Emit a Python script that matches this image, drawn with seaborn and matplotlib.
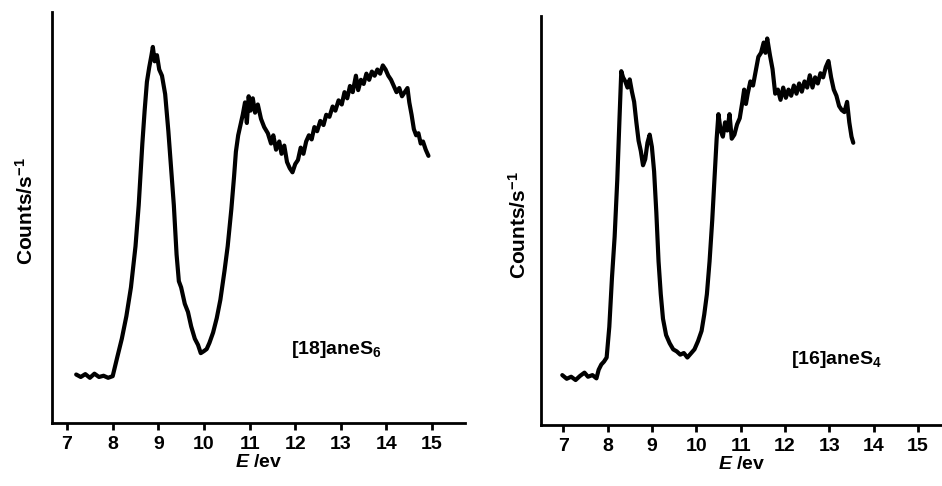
import matplotlib
matplotlib.use("Agg")
import matplotlib.pyplot as plt
import seaborn as sns
import pandas as pd

# ---- data (arbitrary count units, 0 = axis bottom, 100 = axis top)
e18 = [7.20, 7.30, 7.40, 7.50, 7.60, 7.70, 7.80, 7.90, 8.00, 8.10, 8.20, 8.30, 8.40, 8.50, 8.57,
       8.65, 8.70, 8.75, 8.80, 8.85, 8.88, 8.92, 8.97, 9.02, 9.08, 9.15, 9.22, 9.28, 9.34, 9.40,
       9.45, 9.50, 9.58, 9.65, 9.72, 9.80, 9.87, 9.93, 10.00, 10.06, 10.12, 10.20, 10.28, 10.36,
       10.45, 10.52, 10.60, 10.66, 10.70, 10.75, 10.80, 10.85, 10.90, 10.94, 10.98, 11.02, 11.07,
       11.12, 11.18, 11.25, 11.32, 11.40, 11.47, 11.52, 11.58, 11.65, 11.70, 11.76, 11.82, 11.88,
       11.94, 12.00, 12.06, 12.12, 12.18, 12.24, 12.30, 12.36, 12.42, 12.48, 12.55, 12.62, 12.68,
       12.75, 12.82, 12.88, 12.95, 13.02, 13.08, 13.14, 13.20, 13.26, 13.33, 13.38, 13.44, 13.50,
       13.56, 13.62, 13.68, 13.74, 13.80, 13.86, 13.92, 13.98, 14.04, 14.10, 14.16, 14.22, 14.28,
       14.34, 14.40, 14.46, 14.50, 14.55, 14.60, 14.65, 14.70, 14.75, 14.80, 14.86, 14.92]
c18 = [11.8, 11.2, 11.9, 11.0, 12.0, 11.2, 11.5, 11.0, 11.4, 16.0, 20.5, 26.0, 33.0, 43.0, 53.0,
       68.0, 76.0, 83.0, 86.5, 89.5, 91.5, 88.0, 89.5, 86.0, 84.5, 80.0, 71.0, 62.0, 53.0, 41.0,
       34.5, 33.0, 29.0, 27.0, 23.5, 20.5, 19.0, 17.0, 17.5, 18.0, 19.5, 22.0, 25.5, 30.0,
       37.0, 43.0, 52.0, 60.0, 66.0, 70.0, 72.5, 75.0, 78.0, 73.0, 79.5, 76.0, 79.0,
       75.5, 77.5, 74.0, 72.0, 70.5, 68.0, 70.0, 66.5, 68.5, 65.5, 67.5, 63.5, 62.0,
       61.0, 63.0, 64.0, 67.0, 65.5, 68.5, 70.0, 69.0, 72.0, 71.0, 73.5, 72.5, 75.0,
       74.5, 77.0, 76.0, 78.5, 77.5, 80.5, 79.0, 82.0, 80.5, 84.5, 81.0, 83.5, 82.5,
       85.0, 83.5, 85.5, 84.5, 86.0, 85.0, 87.0, 86.0, 84.5, 83.5, 82.0, 80.5, 81.5,
       79.5, 80.5, 81.5, 78.0, 75.0, 71.5, 70.0, 70.5, 68.0, 68.5, 66.5, 65.0]

e16 = [6.98, 7.08, 7.18, 7.28, 7.38, 7.48, 7.56, 7.66, 7.75, 7.80, 7.86, 7.92, 7.98, 8.04, 8.10,
       8.16, 8.22, 8.27, 8.31, 8.35, 8.40, 8.45, 8.50, 8.55, 8.60, 8.65, 8.70, 8.75, 8.80, 8.85,
       8.90, 8.95, 9.00, 9.05, 9.10, 9.15, 9.20, 9.25, 9.32, 9.40, 9.48, 9.56, 9.64, 9.72, 9.80,
       9.88, 9.96, 10.04, 10.12, 10.18, 10.24, 10.30, 10.36, 10.42, 10.46, 10.50, 10.55, 10.60,
       10.65, 10.70, 10.75, 10.80, 10.86, 10.92, 10.98, 11.04, 11.08, 11.12, 11.16, 11.22, 11.28,
       11.34, 11.40, 11.46, 11.52, 11.56, 11.60, 11.66, 11.72, 11.78, 11.84, 11.90, 11.96, 12.02,
       12.08, 12.14, 12.20, 12.26, 12.32, 12.38, 12.44, 12.50, 12.56, 12.62, 12.68, 12.74, 12.80,
       12.86, 12.92, 12.98, 13.04, 13.10, 13.16, 13.22, 13.28, 13.34, 13.40, 13.45, 13.50, 13.54]
c16 = [12.2, 11.3, 11.8, 11.0, 12.0, 12.8, 11.8, 12.2, 11.4, 13.5, 14.8, 15.5, 16.5, 24.0, 36.0,
       46.0, 60.0, 75.0, 86.5, 85.0, 84.0, 82.5, 84.5, 81.5, 79.0, 74.0, 69.5, 67.0, 63.5, 65.0,
       69.0, 71.0, 68.0, 62.0, 52.0, 40.0, 32.0, 26.0, 22.0, 20.0, 18.5, 18.0, 17.2, 17.6, 16.5,
       17.5, 18.5, 20.5, 23.0, 27.0, 32.0, 40.0, 50.0, 62.0, 70.0, 76.0, 72.0, 70.5,
       74.0, 72.0, 76.0, 70.0, 71.0, 73.5, 75.0, 79.0, 82.0, 78.5, 81.0, 84.0, 83.0,
       86.5, 90.0, 91.0, 93.5, 91.0, 94.5, 90.5, 87.0, 81.0, 82.0, 79.5, 82.5, 80.0,
       82.0, 80.5, 83.0, 81.0, 83.5, 81.5, 84.0, 82.5, 85.5, 82.5, 85.0, 83.5, 86.0,
       85.0, 87.5, 89.0, 85.0, 82.0, 80.5, 78.0, 77.0, 76.5, 79.0, 74.0, 70.5, 69.0]

xticks = [7, 8, 9, 10, 11, 12, 13, 14, 15]
labels = ["[18]aneS$_6$", "[16]aneS$_4$"]

sns.set_style("ticks")
plt.rcParams["font.family"] = ["Liberation Sans", "DejaVu Sans"]
plt.rcParams["mathtext.fontset"] = "custom"
plt.rcParams["mathtext.rm"] = "Liberation Sans:bold"
plt.rcParams["mathtext.it"] = "Liberation Sans:bold:italic"
plt.rcParams["mathtext.bf"] = "Liberation Sans:bold"
plt.rcParams["text.color"] = "black"
plt.rcParams["axes.labelcolor"] = "black"
plt.rcParams["xtick.color"] = "black"
plt.rcParams["xtick.labelcolor"] = "black"

fig = plt.figure(figsize=(9.42, 4.86), dpi=100)
ax1 = fig.add_axes([0.0552, 0.1296, 0.4384, 0.8457])
ax2 = fig.add_axes([0.5743, 0.1255, 0.4257, 0.8416])

df1 = pd.DataFrame({"E": e18, "c": c18})
df2 = pd.DataFrame({"E": e16, "c": c16})

panels = [
    (ax1, df1, (6.67, 15.72), labels[0], (12.9, 18.0), (-0.036, 0.516)),
    (ax2, df2, (6.5, 15.54), labels[1], (13.17, 16.1), (-0.027, 0.489)),
]
for ax, df, xl, lab, lpos, ylc in panels:
    sns.lineplot(data=df, x="E", y="c", ax=ax, color="black", linewidth=3.0,
                 sort=False, estimator=None)
    ax.set_xlim(*xl)
    ax.set_ylim(0, 100)
    ax.set_xticks(xticks)
    ax.set_xticklabels([str(t) for t in xticks], fontsize=14, fontweight="bold",
                       color="black")
    ax.set_yticks([])
    for s in ["top", "right"]:
        ax.spines[s].set_visible(False)
    for s in ["left", "bottom"]:
        ax.spines[s].set_linewidth(2.0)
        ax.spines[s].set_color("black")
    ax.tick_params(axis="x", direction="out", length=5, width=2.0, pad=4, colors="black")
    ax.set_xlabel(r"$\mathit{E}$ /ev", fontsize=14, fontweight="bold", labelpad=1,
                  color="black")
    ax.set_ylabel(r"Counts/s$^{-1}$", fontsize=15, fontweight="bold", color="black")
    ax.yaxis.set_label_coords(*ylc)
    ax.text(lpos[0], lpos[1], lab, fontsize=14, fontweight="bold", ha="center",
            va="center", color="black")
    ax.patch.set_alpha(0)

fig.savefig("out.png", dpi=100)
